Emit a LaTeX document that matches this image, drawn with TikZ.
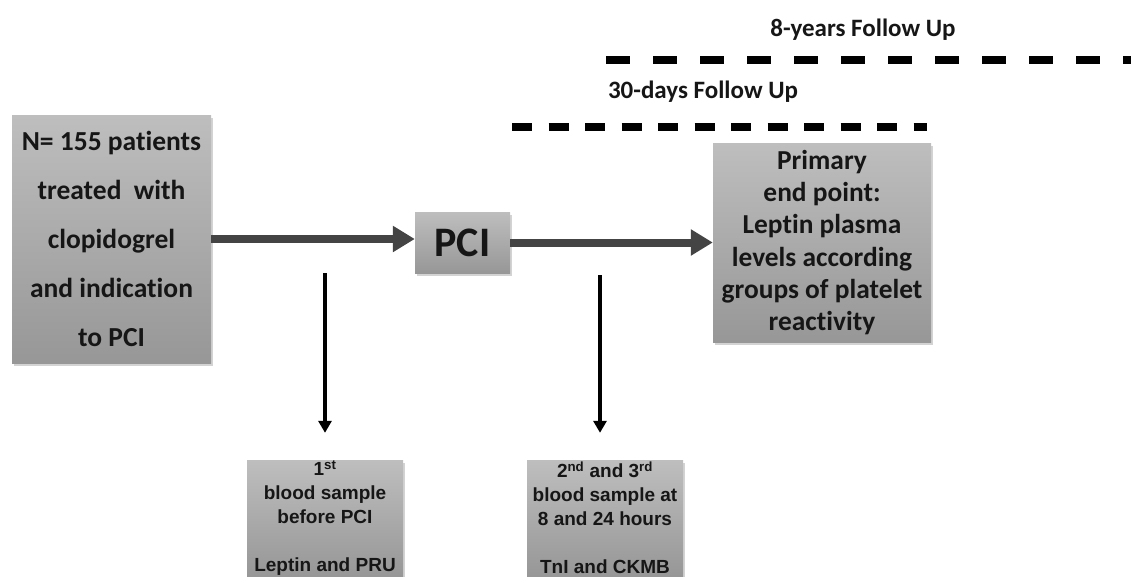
\documentclass[tikz,border=0pt]{standalone}
\usepackage{fontspec}
\setmainfont{Carlito}[Ligatures=NoCommon]
\newfontfamily\arialfont{Liberation Sans}
\usepackage{xcolor}
\usetikzlibrary{arrows.meta,shadows}

\definecolor{boxtop}{HTML}{BEBEBE}
\definecolor{boxbot}{HTML}{979797}
\definecolor{arrowgray}{HTML}{444444}
\definecolor{inkdark}{HTML}{161616}

\tikzset{
  graybox/.style={shade, top color=boxtop, bottom color=boxbot,
    inner sep=0pt, align=center, text=inkdark,
    drop shadow={shadow xshift=2pt, shadow yshift=-3pt, opacity=0.35}},
  flowarrow/.style={draw=arrowgray, line width=8pt,
    -{Triangle[length=22pt, width=25pt]}},
  samplearrow/.style={draw=black, line width=4pt,
    -{Triangle[length=12pt, width=13pt]}},
  followline/.style={line width=8pt, black},
  followlabel/.style={font={\fontsize{25}{28}\selectfont\bfseries}, text=inkdark}
}

\begin{document}
\begin{tikzpicture}[x=1pt, y=-1pt]
  \useasboundingbox (0,0) rectangle (1131,576);

  % follow up periods
  \draw[followline, dash pattern=on 24pt off 23pt] (606,60) -- (1140,60);
  \draw[followline, dash pattern=on 20pt off 16.5pt] (512,127) -- (927,127);
  \node[followlabel] (longfu) at (863,30) {8-years Follow Up};
  \node[followlabel] (shortfu) at (703,92) {30-days Follow Up};

  % main boxes
  \node[graybox, minimum width=199pt, minimum height=248pt,
    font={\fontsize{27.5}{49}\selectfont\bfseries}]
    (patients) at (111.5,239)
    {N= 155 patients\\treated\ \ with\\clopidogrel\\and indication\\to PCI};
  \node[graybox, minimum width=95pt, minimum height=61pt,
    font={\fontsize{42}{44}\selectfont\bfseries}]
    (pci) at (462.5,242.5) {PCI};
  \node[graybox, minimum width=218pt, minimum height=199pt,
    font={\fontsize{27.4}{32.2}\selectfont\bfseries}]
    (endpoint) at (822,242.5)
    {Primary\\end point:\\Leptin plasma\\levels according\\groups of platelet\\reactivity};

  % blood samples
  \node[graybox, minimum width=156pt, minimum height=116pt,
    font={\arialfont\fontsize{19}{24}\selectfont\bfseries}]
    (sampleA) at (325,518)
    {1\textsuperscript{st}\\blood sample\\before PCI\\[24pt]Leptin and PRU};
  \node[graybox, minimum width=156pt, minimum height=116pt,
    font={\arialfont\fontsize{19}{24}\selectfont\bfseries}]
    (sampleB) at (605,518)
    {2\textsuperscript{nd} and 3\textsuperscript{rd}\\blood sample at\\8 and 24 hours\\[24pt]TnI and CKMB};

  % connectors
  \draw[flowarrow] (patients.east) -- (patients.east -| pci.west);
  \draw[flowarrow] (pci.east) -- (pci.east -| endpoint.west);
  \coordinate (tapA) at (325,273);
  \coordinate (tapB) at (600,275);
  \draw[samplearrow, shorten >=27pt] (tapA) -- (sampleA.north);
  \draw[samplearrow, shorten >=27pt] (tapB) -- (tapB |- sampleA.north);
\end{tikzpicture}
\end{document}
